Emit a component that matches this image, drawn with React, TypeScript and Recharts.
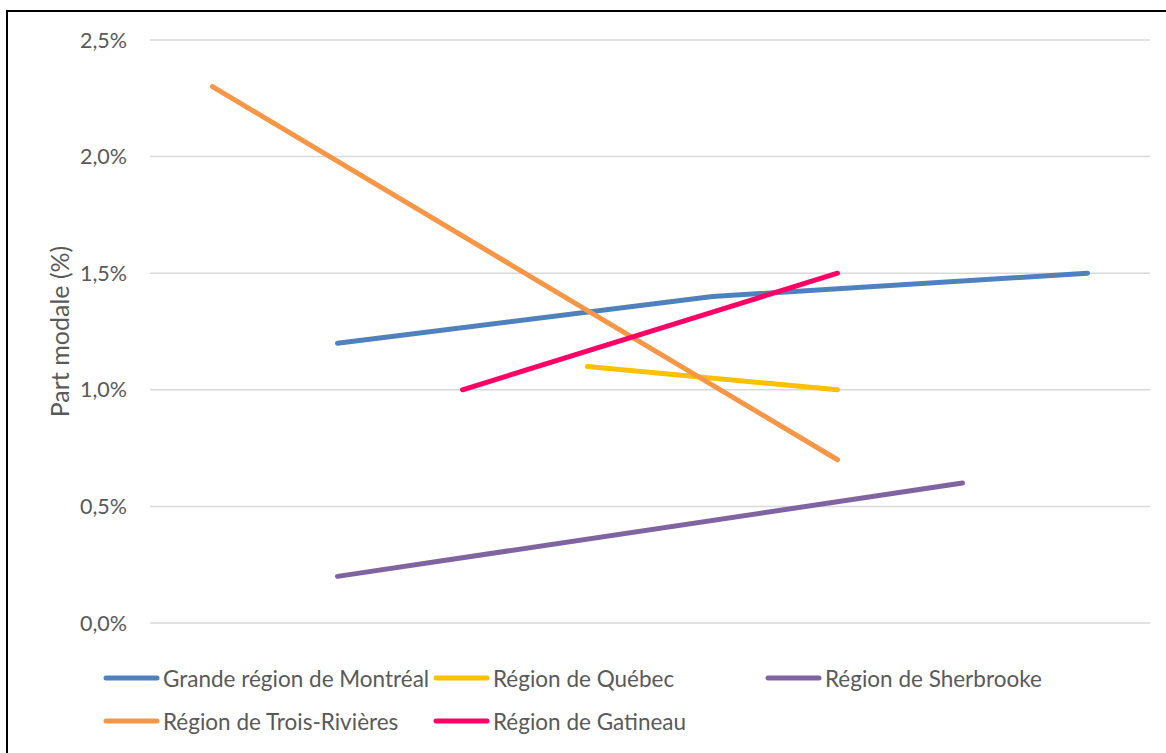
import React from "react";
import { CartesianGrid, Line, LineChart, XAxis, YAxis } from "recharts";

// categories (x labels are not shown on the original chart)
const periods = ["1982", "1987", "1993", "1998", "2003", "2008", "2013", "2018"];

// part modale, in %
const montreal = [null, 1.2, null, null, 1.4, null, null, 1.5];
const quebec = [null, null, null, 1.1, null, 1.0, null, null];
const sherbrooke = [null, 0.2, null, null, null, null, 0.6, null];
const troisRivieres = [2.3, null, null, null, null, 0.7, null, null];
const gatineau = [null, null, 1.0, null, null, 1.5, null, null];

const yTicks = [0, 0.5, 1, 1.5, 2, 2.5];

const series = [
  { key: "Grande région de Montréal", values: montreal, color: "#4f81bd" },
  { key: "Région de Québec", values: quebec, color: "#ffc000" },
  { key: "Région de Sherbrooke", values: sherbrooke, color: "#8064a2" },
  { key: "Région de Trois-Rivières", values: troisRivieres, color: "#f79646" },
  { key: "Région de Gatineau", values: gatineau, color: "#ff0066" },
];

const FONT = "Lato, 'Open Sans', sans-serif";
const TEXT = "#595959";

export default function App() {
  const data = periods.map((p, i) => {
    const row: Record<string, string | number | null> = { period: p };
    series.forEach((s) => {
      row[s.key] = s.values[i];
    });
    return row;
  });

  // legend grid: 3 columns, 2 rows
  const legendCols = [103, 433, 765];
  const legendRows = [678, 721];

  return (
    <div
      style={{
        position: "absolute",
        left: 0,
        top: 0,
        width: 1166,
        height: 753,
        overflow: "hidden",
        background: "#fff",
        fontFamily: FONT,
      }}
    >
      <div
        style={{
          position: "absolute",
          left: 6,
          top: 10,
          width: 1300,
          height: 900,
          border: "2px solid #000",
        }}
      />
      <div style={{ position: "absolute", left: 0, top: 0 }}>
        <LineChart
          width={1166}
          height={660}
          data={data}
          margin={{ top: 40, right: 16, left: 0, bottom: 37 }}
        >
          <CartesianGrid vertical={false} stroke="#d9d9d9" strokeWidth={1.5} />
          <XAxis dataKey="period" hide padding={{ left: 62.5, right: 62.5 }} />
          <YAxis
            width={150}
            domain={[0, 2.5]}
            ticks={yTicks}
            axisLine={false}
            tickLine={false}
            tickSize={0}
            tickMargin={23}
            tick={{ fontSize: 21.5, fill: TEXT, fontFamily: FONT }}
            tickFormatter={(v: number) => `${v.toFixed(1).replace(".", ",")}%`}
            label={{
              value: "Part modale (%)",
              angle: -90,
              position: "insideLeft",
              offset: 60,
              style: { fontSize: 25, fill: TEXT, fontFamily: FONT, textAnchor: "middle" },
            }}
          />
          {series.map((s) => (
            <Line
              key={s.key}
              type="linear"
              dataKey={s.key}
              stroke={s.color}
              strokeWidth={5}
              strokeLinecap="round"
              dot={false}
              activeDot={false}
              connectNulls
              isAnimationActive={false}
            />
          ))}
        </LineChart>
      </div>
      {series.map((s, i) => {
        const x = legendCols[i % 3];
        const y = legendRows[Math.floor(i / 3)];
        return (
          <div
            key={s.key}
            style={{
              position: "absolute",
              left: x,
              top: y - 15,
              height: 30,
              display: "flex",
              alignItems: "center",
              whiteSpace: "nowrap",
            }}
          >
            <svg width={58} height={10} style={{ marginRight: 2 }}>
              <line x1={3} y1={5} x2={54} y2={5} stroke={s.color} strokeWidth={5} strokeLinecap="round" />
            </svg>
            <span style={{ fontSize: 22.5, color: TEXT }}>{s.key}</span>
          </div>
        );
      })}
    </div>
  );
}
